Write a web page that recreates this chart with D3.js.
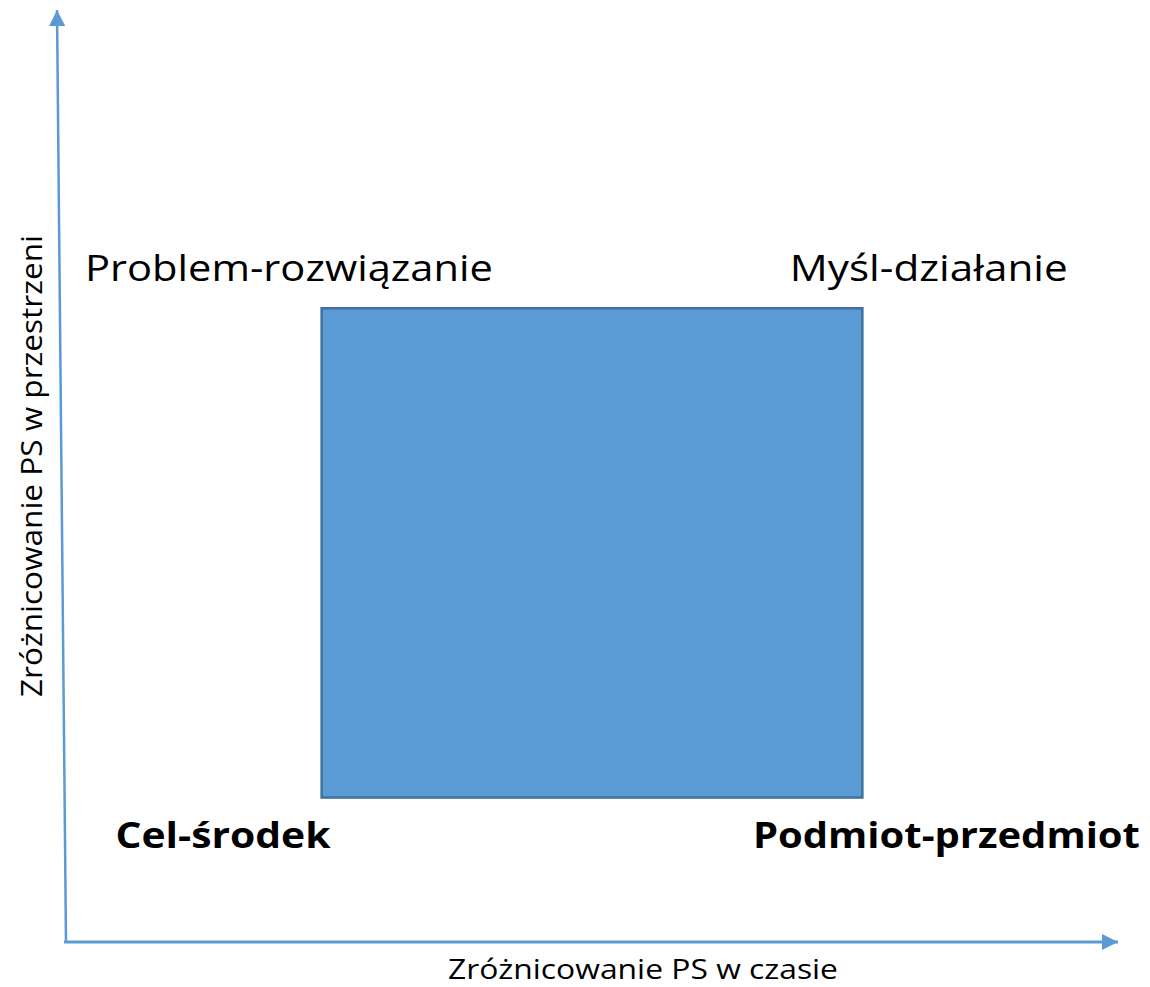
<!DOCTYPE html>
<html>
<head>
<meta charset="utf-8">
<script src="https://d3js.org/d3.v7.min.js"></script>
<style>
  html, body { margin: 0; padding: 0; background: #fff; }
  svg text { font-family: "Open Sans", "Noto Sans", sans-serif; fill: #000; }
</style>
</head>
<body>
<div id="chart"></div>
<script>
// Axis titles
const xTitle = "Zróżnicowanie PS w czasie";
const yTitle = "Zróżnicowanie PS w przestrzeni";

// The single box (data units on a 0..10 grid)
const boxX = [2.43, 7.57];
const boxY = [1.55, 6.80];

// Corner labels
const labelNames = ["Problem-rozwiązanie", "Myśl-działanie", "Cel-środek", "Podmiot-przedmiot"];
const labelX = [0.18, 6.88, 0.47, 6.53];
const labelY = [7.09, 7.09, 1.01, 1.01];
const labelBold = [false, false, true, true];
const labelWidth = [408, 278, 215, 387];

const width = 1150, height = 987;
const blue = "#5B9BD5", dark = "#41719C";

const x = d3.scaleLinear().domain([0, 10]).range([66, 1118]);
const y = d3.scaleLinear().domain([0, 10]).range([942, 10]);

const svg = d3.select("#chart").append("svg")
    .attr("width", width)
    .attr("height", height);

// Arrow heads
const defs = svg.append("defs");
defs.append("marker")
    .attr("id", "arrow")
    .attr("viewBox", "0 0 16 16")
    .attr("refX", 16).attr("refY", 8)
    .attr("markerWidth", 16).attr("markerHeight", 16)
    .attr("markerUnits", "userSpaceOnUse")
    .attr("orient", "auto")
    .append("path")
    .attr("d", "M0,0 L16,8 L0,16 Z")
    .attr("fill", blue);

// The box
svg.append("rect")
    .attr("x", x(boxX[0]))
    .attr("y", y(boxY[1]))
    .attr("width", x(boxX[1]) - x(boxX[0]))
    .attr("height", y(boxY[0]) - y(boxY[1]))
    .attr("fill", blue)
    .attr("stroke", dark)
    .attr("stroke-width", 2.5);

// Axes (the vertical one leans a little, as in the original)
const yLean = -9;
svg.append("line")
    .attr("x1", x(0)).attr("y1", y(0) + 1)
    .attr("x2", x(0) + yLean).attr("y2", y(10))
    .attr("stroke", blue).attr("stroke-width", 2.5)
    .attr("marker-end", "url(#arrow)");

svg.append("line")
    .attr("x1", x(0) - 2).attr("y1", y(0))
    .attr("x2", x(10)).attr("y2", y(0))
    .attr("stroke", blue).attr("stroke-width", 3)
    .attr("marker-end", "url(#arrow)");

// Corner labels
svg.selectAll(".corner")
    .data(labelNames)
    .enter().append("text")
    .attr("class", "corner")
    .attr("x", (d, i) => x(labelX[i]))
    .attr("y", (d, i) => y(labelY[i]))
    .attr("font-size", (d, i) => labelBold[i] ? 36 : 37)
    .attr("font-weight", (d, i) => labelBold[i] ? "bold" : "normal")
    .attr("textLength", (d, i) => labelWidth[i])
    .attr("lengthAdjust", "spacingAndGlyphs")
    .text(d => d);

// Axis titles
svg.append("text")
    .attr("x", 448).attr("y", 979)
    .attr("font-size", 28)
    .attr("textLength", 390)
    .attr("lengthAdjust", "spacingAndGlyphs")
    .text(xTitle);

svg.append("text")
    .attr("transform", "translate(42,697) rotate(-90)")
    .attr("font-size", 30)
    .attr("textLength", 462)
    .attr("lengthAdjust", "spacingAndGlyphs")
    .text(yTitle);
</script>
</body>
</html>
